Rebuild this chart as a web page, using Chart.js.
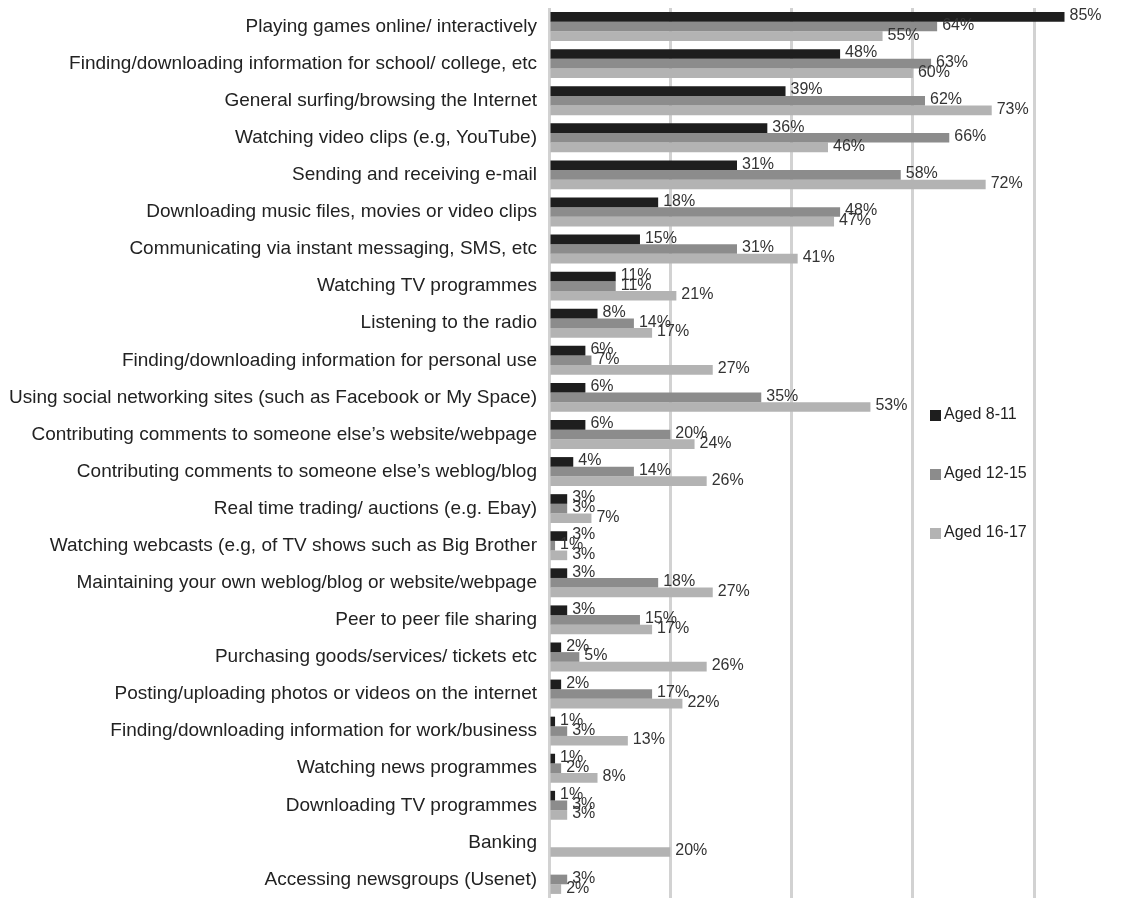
<!DOCTYPE html>
<html lang="en">
<head>
    <meta charset="UTF-8">
    <title>Internet activities by age</title>
    <script src="https://cdn.jsdelivr.net/npm/chart.js"></script>
    <style>
        html, body { margin: 0; padding: 0; background: #fff; }
        #wrap { width: 1130px; height: 898px; position: relative; }
    </style>
</head>
<body>
    <div id="wrap"><canvas id="myChart"></canvas></div>

    <script>
        const categories = [
            'Playing games online/ interactively',
            'Finding/downloading information for school/ college, etc',
            'General surfing/browsing the Internet',
            'Watching video clips (e.g, YouTube)',
            'Sending and receiving e-mail',
            'Downloading music files, movies or video clips',
            'Communicating via instant messaging, SMS, etc',
            'Watching TV programmes',
            'Listening to the radio',
            'Finding/downloading information for personal use',
            'Using social networking sites (such as Facebook or My Space)',
            'Contributing comments to someone else\u2019s website/webpage',
            'Contributing comments to someone else\u2019s weblog/blog',
            'Real time trading/ auctions (e.g. Ebay)',
            'Watching webcasts (e.g, of TV shows such as Big Brother',
            'Maintaining your own weblog/blog or website/webpage',
            'Peer to peer file sharing',
            'Purchasing goods/services/ tickets etc',
            'Posting/uploading photos or videos on the internet',
            'Finding/downloading information for work/business',
            'Watching news programmes',
            'Downloading TV programmes',
            'Banking',
            'Accessing newsgroups (Usenet)'
        ];
        const aged8to11  = [85, 48, 39, 36, 31, 18, 15, 11, 8, 6, 6, 6, 4, 3, 3, 3, 3, 2, 2, 1, 1, 1, null, null];
        const aged12to15 = [64, 63, 62, 66, 58, 48, 31, 11, 14, 7, 35, 20, 14, 3, 1, 18, 15, 5, 17, 3, 2, 3, null, 3];
        const aged16to17 = [55, 60, 73, 46, 72, 47, 41, 21, 17, 27, 53, 24, 26, 7, 3, 27, 17, 26, 22, 13, 8, 3, 20, 2];
        const xTicks = [0, 20, 40, 60, 80];

        // value labels at the end of each bar
        const barLabels = {
            id: 'barLabels',
            afterDatasetsDraw(chart) {
                const ctx = chart.ctx;
                ctx.save();
                ctx.font = '16px "Liberation Sans", Arial, sans-serif';
                ctx.fillStyle = '#333';
                ctx.textAlign = 'left';
                ctx.textBaseline = 'middle';
                chart.data.datasets.forEach((ds, i) => {
                    chart.getDatasetMeta(i).data.forEach((bar, j) => {
                        const v = ds.data[j];
                        if (v === null || v === undefined) return;
                        ctx.fillText(v + '%', bar.x + 5, bar.y - 1);
                    });
                });
                ctx.restore();
            }
        };

        // legend placed inside the plot, stacked vertically
        const sideLegend = {
            id: 'sideLegend',
            afterDraw(chart) {
                const ctx = chart.ctx;
                ctx.save();
                ctx.font = '16px "Liberation Sans", Arial, sans-serif';
                ctx.textAlign = 'left';
                ctx.textBaseline = 'middle';
                chart.data.datasets.forEach((ds, i) => {
                    const y = 415 + i * 59;
                    ctx.fillStyle = ds.backgroundColor;
                    ctx.fillRect(930, y - 5, 11, 11);
                    ctx.fillStyle = '#222';
                    ctx.fillText(ds.label, 944, y);
                });
                ctx.restore();
            }
        };

        const data = {
            labels: categories,
            datasets: [{
                label: 'Aged 8-11',
                data: aged8to11,
                backgroundColor: '#1e1e1e'
            }, {
                label: 'Aged 12-15',
                data: aged12to15,
                backgroundColor: '#8c8c8c'
            }, {
                label: 'Aged 16-17',
                data: aged16to17,
                backgroundColor: '#b3b3b3'
            }]
        };

        const config = {
            type: 'bar',
            data: data,
            options: {
                indexAxis: 'y',
                responsive: true,
                maintainAspectRatio: false,
                animation: false,
                layout: { padding: { top: 8, right: 0, bottom: 0, left: 0 } },
                datasets: {
                    bar: { categoryPercentage: 0.78, barPercentage: 1.0 }
                },
                plugins: {
                    legend: { display: false },
                    tooltip: { enabled: false }
                },
                scales: {
                    x: {
                        min: 0,
                        max: 95.8,
                        afterBuildTicks: (scale) => {
                            scale.ticks = xTicks.map(v => ({ value: v }));
                        },
                        afterFit: (scale) => {
                            scale.height = 0;
                            scale.paddingLeft = 0;
                            scale.paddingRight = 0;
                        },
                        ticks: { display: false },
                        border: { display: false },
                        grid: { color: '#d2d2d2', lineWidth: 3, drawTicks: false }
                    },
                    y: {
                        afterFit: (scale) => {
                            scale.width = 549;
                            scale.paddingTop = 0;
                            scale.paddingBottom = 0;
                        },
                        ticks: {
                            color: '#222',
                            padding: 4,
                            autoSkip: false,
                            font: { family: '"Liberation Sans", Arial, sans-serif', size: 19 }
                        },
                        border: { display: false },
                        grid: { display: false }
                    }
                }
            },
            plugins: [barLabels, sideLegend]
        };

        const myChart = new Chart(document.getElementById('myChart'), config);
    </script>
</body>
</html>
